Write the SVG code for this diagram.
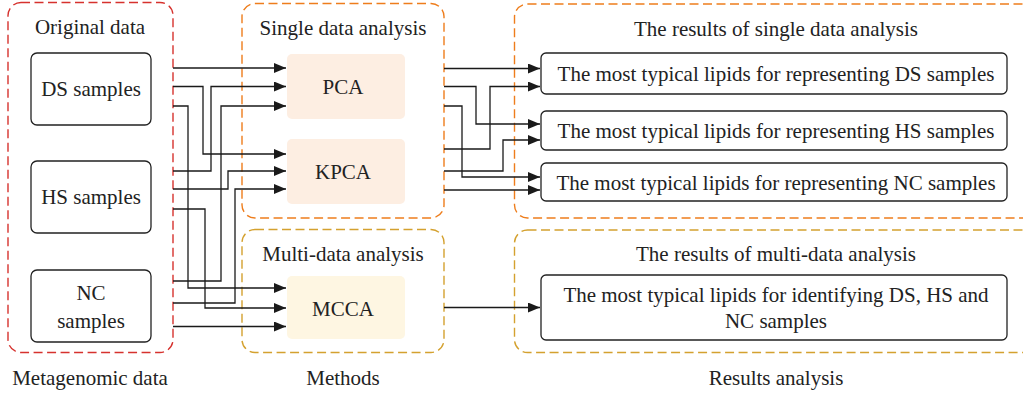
<svg xmlns="http://www.w3.org/2000/svg" width="1023" height="396" viewBox="0 0 1023 396">
  <defs>
    <marker id="arrow" viewBox="0 0 12 10" refX="12" refY="5" markerWidth="12" markerHeight="10" markerUnits="userSpaceOnUse" orient="auto">
      <path d="M0,0 L12,5 L0,10 Z" fill="#1a1a1a"/>
    </marker>
    <style>
      text { font-family: "Liberation Serif", "DejaVu Serif", serif; font-size: 21px; fill: #222; text-anchor: middle; }
      .grp { fill: none; stroke-width: 1.4; stroke-dasharray: 9 4.5; }
      .red { stroke: #d6322e; }
      .orange { stroke: #ee7d1c; }
      .gold { stroke: #d4a12f; }
      .box { fill: #fff; stroke: #222; stroke-width: 1.3; }
      .pca { fill: #fdeee2; }
      .mcca { fill: #fef6e2; }
      .wire { fill: none; stroke: #1a1a1a; stroke-width: 1.3; }
      .arr { marker-end: url(#arrow); }
    </style>
  </defs>

  <!-- group frames -->
  <g id="frames">
    <rect class="grp red" x="8" y="2.5" width="165" height="350" rx="13"/>
    <rect class="grp orange" x="242" y="3.5" width="202" height="214.5" rx="13"/>
    <rect class="grp gold" x="242" y="229.5" width="202" height="123" rx="13"/>
    <rect class="grp orange" x="514.5" y="4" width="540" height="214" rx="13"/>
    <rect class="grp gold" x="514.5" y="230" width="540" height="122.5" rx="13"/>
  </g>

  <!-- frame titles -->
  <g id="titles">
    <text x="90" y="34">Original data</text>
    <text x="343" y="35">Single data analysis</text>
    <text x="343" y="260.5">Multi-data analysis</text>
    <text x="776" y="35.5">The results of single data analysis</text>
    <text x="776" y="260.5">The results of multi-data analysis</text>
    <text x="90" y="384.5">Metagenomic data</text>
    <text x="343" y="384.5">Methods</text>
    <text x="776" y="384.5">Results analysis</text>
  </g>

  <!-- sample nodes -->
  <g id="ds-samples">
    <rect class="box" x="31" y="53" width="120" height="72" rx="6"/>
    <text x="91" y="96">DS samples</text>
  </g>
  <g id="hs-samples">
    <rect class="box" x="31" y="161" width="120" height="72" rx="6"/>
    <text x="91" y="204">HS samples</text>
  </g>
  <g id="nc-samples">
    <rect class="box" x="31" y="270" width="120" height="72" rx="6"/>
    <text x="91" y="299.5">NC</text>
    <text x="91" y="327.5">samples</text>
  </g>

  <!-- method nodes -->
  <g id="pca">
    <rect class="pca" x="287" y="54" width="118" height="65" rx="5"/>
    <text x="343" y="93.5">PCA</text>
  </g>
  <g id="kpca">
    <rect class="pca" x="287" y="139" width="118" height="65" rx="5"/>
    <text x="343" y="178.5">KPCA</text>
  </g>
  <g id="mcca">
    <rect class="mcca" x="287" y="276" width="118" height="63" rx="5"/>
    <text x="343" y="315.5">MCCA</text>
  </g>

  <!-- result nodes -->
  <g id="result-ds">
    <rect class="box" x="541" y="53" width="466" height="41" rx="5"/>
    <text x="776" y="80.5">The most typical lipids for representing DS samples</text>
  </g>
  <g id="result-hs">
    <rect class="box" x="541" y="111" width="466" height="39" rx="5"/>
    <text x="776" y="137.5">The most typical lipids for representing HS samples</text>
  </g>
  <g id="result-nc">
    <rect class="box" x="541" y="163" width="466" height="38" rx="5"/>
    <text x="776" y="189.5">The most typical lipids for representing NC samples</text>
  </g>
  <g id="result-multi">
    <rect class="box" x="541" y="275" width="466" height="65" rx="5"/>
    <text x="776" y="302">The most typical lipids for identifying DS, HS and</text>
    <text x="776" y="327.5">NC samples</text>
  </g>

  <!-- connectors -->
  <g id="connectors">
    <!-- samples to methods -->
    <path class="wire arr" d="M173,68 H286"/>
    <path class="wire arr" d="M173,86.5 H203 V154 H286"/>
    <path class="wire arr" d="M173,106 H188 V288 H286"/>
    <path class="wire arr" d="M173,171 H211 V86.5 H286"/>
    <path class="wire arr" d="M173,189 H228 V171 H286"/>
    <path class="wire arr" d="M173,209 H205 V308 H286"/>
    <path class="wire arr" d="M173,281 H221 V106 H286"/>
    <path class="wire arr" d="M173,303 H235 V189 H286"/>
    <path class="wire arr" d="M173,326.5 H286"/>
    <!-- methods to results -->
    <path class="wire arr" d="M444,68.5 H540"/>
    <path class="wire arr" d="M444,86.5 H476 V124 H540"/>
    <path class="wire arr" d="M444,106 H462 V177 H540"/>
    <path class="wire arr" d="M444,149 H490 V86.5 H540"/>
    <path class="wire arr" d="M444,171 H503 V140 H540"/>
    <path class="wire arr" d="M444,190 H540"/>
    <path class="wire arr" d="M444,307.5 H540"/>
  </g>
</svg>
